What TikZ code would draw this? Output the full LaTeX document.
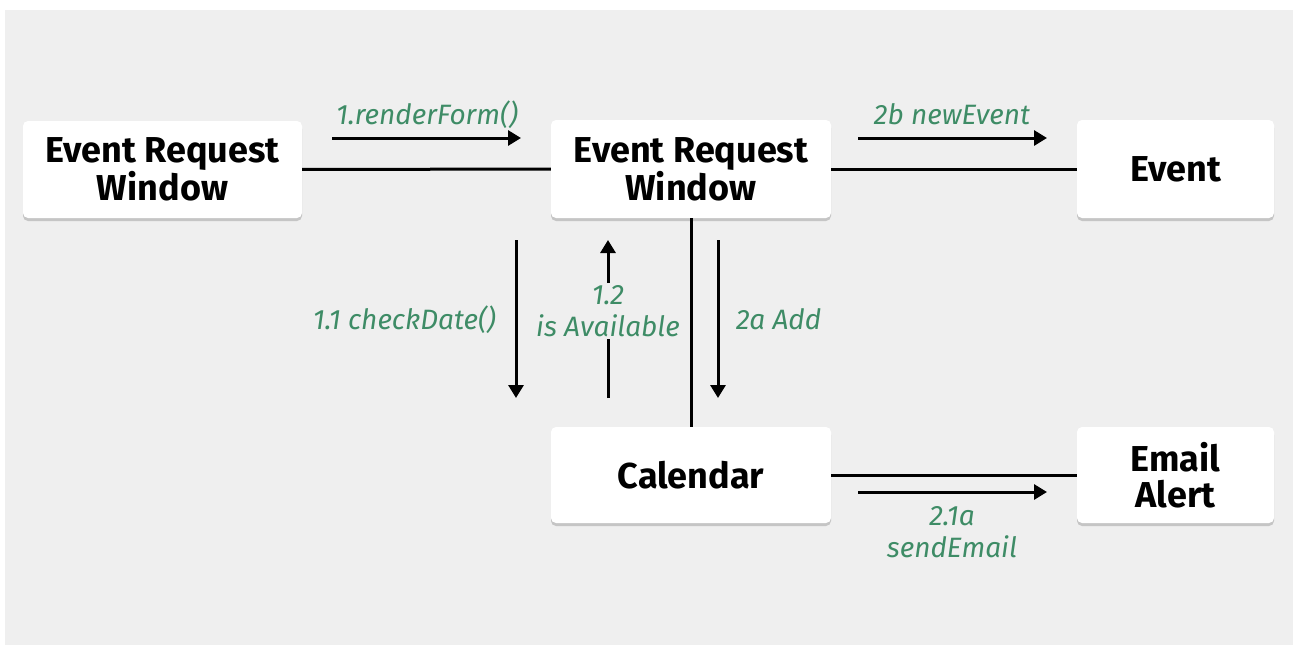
\documentclass[tikz,border=0pt]{standalone}
\usepackage{fontspec}
\setmainfont{Fira Sans}
\usetikzlibrary{arrows.meta,shadows}
\definecolor{canvas}{HTML}{EFEFEF}
\definecolor{msggreen}{RGB}{62,140,102}
\tikzset{
  objbox/.style={fill=white, rounded corners=5pt, inner sep=0pt, align=center,
    font={\fontsize{36}{36}\selectfont\bfseries},
    drop shadow={shadow xshift=0pt, shadow yshift=-3pt, opacity=0.3, fill=black!60}},
  link/.style={line width=3pt, black},
  msg/.style={line width=3pt, black, -{Triangle[length=13pt,width=15pt]}},
  msgline/.style={line width=3pt, black},
  msglabel/.style={text=msggreen, inner sep=2pt, align=center,
    font={\fontsize{28}{32}\selectfont\itshape}}
}
\begin{document}
\begin{tikzpicture}[x=1pt, y=-1pt]
  % canvas
  \useasboundingbox (0,0) rectangle (1293,645);
  \fill[canvas] (5,10) rectangle (1293,645);

  % objects
  \node[objbox, minimum width=279pt, minimum height=97pt] (erwL) at (162.5,169.5) {Event Request\\Window};
  \node[objbox, minimum width=280pt, minimum height=98pt] (erwC) at (691,169) {Event Request\\Window};
  \node[objbox, minimum width=197pt, minimum height=98pt] (event) at (1175.5,169) {Event};
  \node[objbox, minimum width=280pt, minimum height=96pt] (cal) at (691,475) {Calendar};
  \node[objbox, minimum width=197pt, minimum height=96pt] (mail) at (1175.5,475) {Email\\Alert};

  % links
  \draw[link] (erwL) -- (erwC);
  \draw[link] (erwC) -- (event);
  \draw[link] (erwC) -- (cal);
  \draw[link] (cal) -- (mail);

  % message arrows
  \coordinate (m1s) at (332,138);  \coordinate (m1e) at (521,138);
  \coordinate (m2s) at (858,138);  \coordinate (m2e) at (1047,138);
  \coordinate (m11s) at (516,240); \coordinate (m11e) at (516,398);
  \coordinate (m12s) at (608,398); \coordinate (m12e) at (608,240);
  \coordinate (m2as) at (718,240); \coordinate (m2ae) at (718,398);
  \coordinate (m21s) at (858,492); \coordinate (m21e) at (1047,492);

  \draw[msg] (m1s) -- (m1e);
  \draw[msg] (m2s) -- (m2e);
  \draw[msg] (m11s) -- (m11e);
  \draw[msg] (m2as) -- (m2ae);
  \draw[msg] (m21s) -- (m21e);

  % message labels
  \node[msglabel, anchor=base] (l1) at (427,124) {1.renderForm()};
  \node[msglabel, anchor=base] (l2) at (952,124) {2b newEvent};
  \node[msglabel, anchor=base east] (l11) at (498,329) {1.1 checkDate()};
  \node[msglabel, anchor=base west] (l2a) at (734,329) {2a Add};
  \node[msglabel] (l12) at (608,311) {1.2\\is Available};
  \node[msglabel] (l21) at (952,532) {2.1a\\sendEmail};

  % the 1.2 return arrow is broken around its label
  \draw[msgline] (m12s) -- (l12.south);
  \draw[msg] (l12.north) -- (m12e);
\end{tikzpicture}
\end{document}
